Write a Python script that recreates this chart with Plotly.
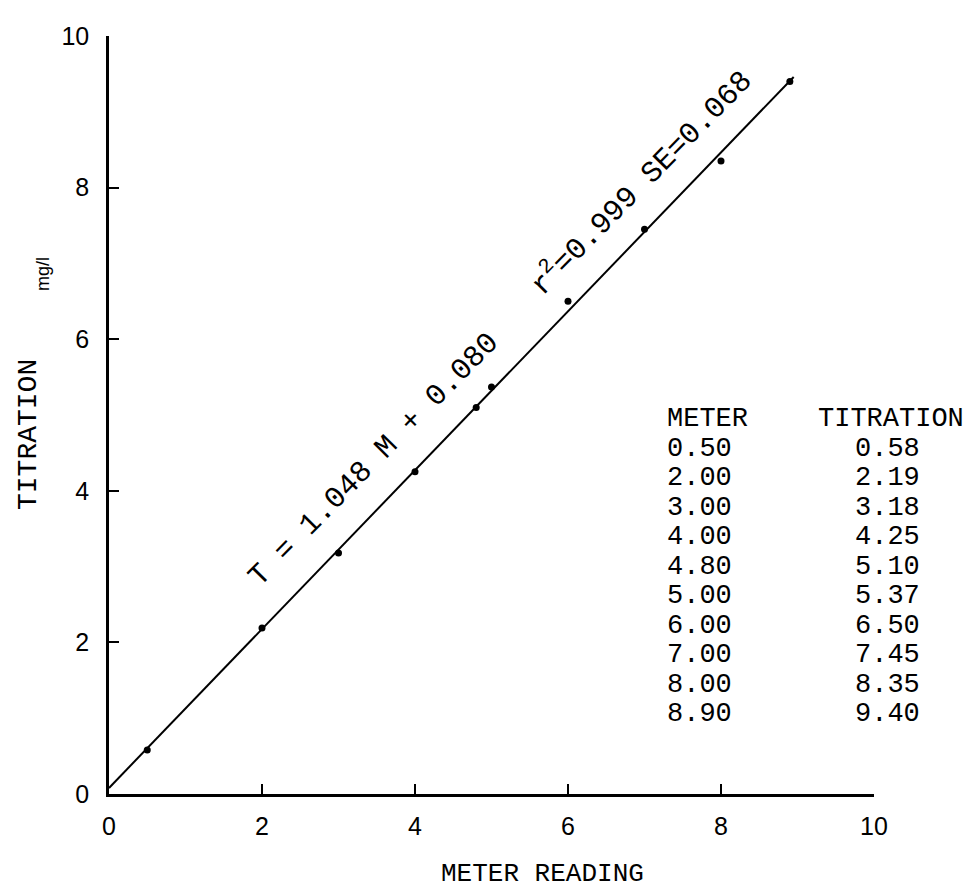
import plotly.graph_objects as go

# ---- data ----
meter = [0.50, 2.00, 3.00, 4.00, 4.80, 5.00, 6.00, 7.00, 8.00, 8.90]
titration = [0.58, 2.19, 3.18, 4.25, 5.10, 5.37, 6.50, 7.45, 8.35, 9.40]
meter_labels = ["0.50", "2.00", "3.00", "4.00", "4.80", "5.00", "6.00", "7.00", "8.00", "8.90"]
titration_labels = ["0.58", "2.19", "3.18", "4.25", "5.10", "5.37", "6.50", "7.45", "8.35", "9.40"]
fit_slope = 1.048
fit_intercept = 0.080
fit_x = [0.0, 8.95]
fit_y = [fit_slope * v + fit_intercept for v in fit_x]
x_ticks = [0, 2, 4, 6, 8, 10]
y_ticks = [0, 2, 4, 6, 8, 10]

# ---- layout geometry (pixels) ----
W_FIG, H_FIG = 976, 895
L, R, T0, B = 101, 866, 28, 786
PW, PH = R - L, B - T0


def px(x):
    return (x - L) / PW


def py(y):
    return (B - y) / PH


MONO = "Liberation Mono"
SANS = "Liberation Sans"

fig = go.Figure()
fig.add_trace(go.Scatter(x=fit_x, y=fit_y, mode="lines",
                         line=dict(color="black", width=2), hoverinfo="skip"))
fig.add_trace(go.Scatter(x=meter, y=titration, mode="markers",
                         marker=dict(color="black", size=7)))

annotations = []
# regression equation, drawn along the line
annotations.append(dict(text="T = 1.048 M + 0.080", x=px(366), y=py(452), xref="paper", yref="paper",
                        showarrow=False, textangle=-45.5, xanchor="center", yanchor="middle",
                        font=dict(family=MONO, size=30, color="black")))
annotations.append(dict(text="r<sup>2</sup>=0.999 SE=0.068", x=px(632), y=py(174), xref="paper", yref="paper",
                        showarrow=False, textangle=-45.5, xanchor="center", yanchor="middle",
                        font=dict(family=MONO, size=30, color="black")))

# table
TF = 27
row0, dy = 411, 29.5
annotations.append(dict(text="METER", x=px(657), y=py(row0), xref="paper", yref="paper",
                        showarrow=False, xanchor="left", yanchor="middle",
                        font=dict(family=MONO, size=TF, color="black")))
annotations.append(dict(text="TITRATION", x=px(808), y=py(row0), xref="paper", yref="paper",
                        showarrow=False, xanchor="left", yanchor="middle",
                        font=dict(family=MONO, size=TF, color="black")))
for i, (m, t) in enumerate(zip(meter_labels, titration_labels)):
    yy = row0 + dy * (i + 1)
    annotations.append(dict(text=m, x=px(657), y=py(yy), xref="paper", yref="paper",
                            showarrow=False, xanchor="left", yanchor="middle",
                            font=dict(family=MONO, size=TF, color="black")))
    annotations.append(dict(text=t, x=px(845), y=py(yy), xref="paper", yref="paper",
                            showarrow=False, xanchor="left", yanchor="middle",
                            font=dict(family=MONO, size=TF, color="black")))

# axis titles
annotations.append(dict(text="METER READING", x=px(534), y=py(866), xref="paper", yref="paper",
                        showarrow=False, xanchor="center", yanchor="middle",
                        font=dict(family=MONO, size=26, color="black")))
annotations.append(dict(text="TITRATION", x=px(21), y=py(427), xref="paper", yref="paper",
                        showarrow=False, xanchor="center", yanchor="middle", textangle=-90,
                        font=dict(family=MONO, size=28, color="black")))
annotations.append(dict(text="mg/l", x=px(35), y=py(266), xref="paper", yref="paper",
                        showarrow=False, xanchor="center", yanchor="middle", textangle=-90,
                        font=dict(family=SANS, size=18, color="black")))

axis_common = dict(range=[0, 10], showgrid=False, zeroline=False, showline=True,
                   linecolor="black", linewidth=2.5, ticks="inside", ticklen=10,
                   tickwidth=1.8, tickcolor="black", mirror=False,
                   tickfont=dict(family=SANS, size=25, color="black"))

fig.update_layout(
    width=W_FIG, height=H_FIG,
    margin=dict(l=L, r=W_FIG - R, t=T0, b=H_FIG - B),
    paper_bgcolor="white", plot_bgcolor="white",
    showlegend=False,
    xaxis=dict(tickvals=x_ticks, ticktext=[str(v) for v in x_ticks],
               ticklabelstandoff=8, **axis_common),
    yaxis=dict(tickvals=y_ticks, ticktext=[str(v) for v in y_ticks],
               ticklabelstandoff=12, **axis_common),
    annotations=annotations,
)

fig.write_html("out.html")
